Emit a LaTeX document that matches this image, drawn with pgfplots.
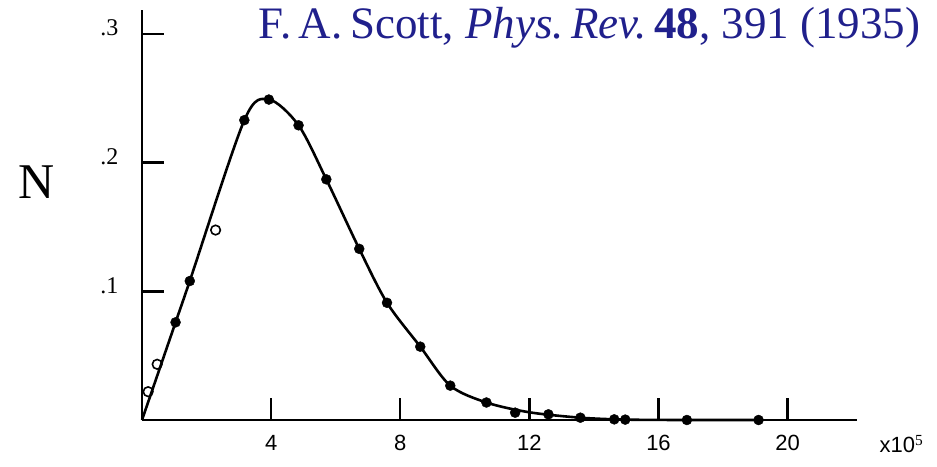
\documentclass[border=0pt]{standalone}
\usepackage{fontspec}
\setmainfont{Liberation Serif}
\newfontfamily\handfont{Liberation Sans}
\usepackage{pgfplots}
\pgfplotsset{compat=1.18}
\definecolor{citeblue}{RGB}{32,32,140}

% Scott (1935): distribution N versus energy (in units of 10^5)
\pgfplotstableread{
x     y
1.04  0.0759
1.48  0.108
3.17  0.233
3.93  0.249
4.85  0.229
5.71  0.187
6.73  0.133
7.59  0.0911
8.62  0.057
9.55  0.0267
10.67 0.0136
11.56 0.0057
12.59 0.0044
13.58 0.0018
14.63 0.0005
14.97 0.0003
16.88 0.0
19.10 0.0
}\filledpts

\pgfplotstableread{
x     y
0.19  0.022
0.47  0.0433
2.28  0.1476
}\openpts

% hand-drawn smooth curve through the measurements
\pgfplotstableread{
x     y
0.00  0.0
1.04  0.0759
1.48  0.108
3.17  0.233
3.93  0.249
4.85  0.229
5.71  0.187
6.73  0.133
7.59  0.0911
8.62  0.057
9.55  0.0267
10.67 0.0136
12.00 0.0060
13.58 0.0018
15.00 0.0003
16.88 0.0
19.10 0.0
}\curvepts

\begin{document}
\begin{tikzpicture}[x=1pt,y=1pt]
\useasboundingbox (0,0) rectangle (937,466);
\begin{axis}[
  at={(142pt,46pt)}, anchor=south west,
  scale only axis, width=715pt, height=410pt,
  xmin=0, xmax=22.15, ymin=0, ymax=0.3186,
  axis lines=left,
  axis line style={-, line width=2.6pt},
  xtick={4,8,12,16,20}, xticklabels={4,8,12,16,20},
  ytick={0.1,0.2,0.3}, yticklabels={.1,.2,.3},
  tick align=inside, major tick length=22pt,
  tick style={line width=2.4pt, black},
  xticklabel style={font=\handfont\fontsize{22}{22}\selectfont, yshift=-12pt},
  yticklabel style={font=\fontsize{24}{24}\selectfont, xshift=-20pt, yshift=6pt},
  clip=false,
]
\addplot[black, line width=2.6pt, smooth, tension=0.5] table {\curvepts};
\addplot[only marks, mark=*, mark size=5pt, black] table {\filledpts};
\addplot[only marks, mark=o, mark size=4.8pt, black, line width=1.6pt] table {\openpts};
\end{axis}
\node at (37,284) {\fontsize{50}{50}\selectfont N};
\node[anchor=west] at (876,22) {\handfont\fontsize{22}{22}\selectfont x10$^{\mathrm{5}}$};
\node[anchor=east, text=citeblue] at (924,438)
  {\fontsize{45}{45}\selectfont F.\,A.\,Scott, \textit{Phys.\,Rev.}\,\textbf{48}, 391 (1935)};
\end{tikzpicture}
\end{document}
